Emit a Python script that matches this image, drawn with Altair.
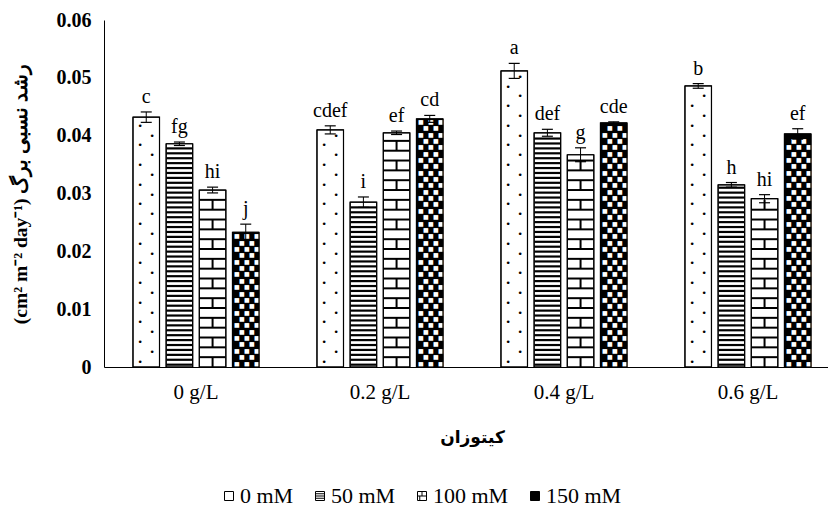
import altair as alt
import pandas as pd

groups = ["0 g/L", "0.2 g/L", "0.4 g/L", "0.6 g/L"]
series = ["0 mM", "50 mM", "100 mM", "150 mM"]

value_0mM = [0.0432, 0.0410, 0.0512, 0.0486]
value_50mM = [0.0386, 0.0285, 0.0405, 0.0315]
value_100mM = [0.0306, 0.0405, 0.0367, 0.0291]
value_150mM = [0.0233, 0.0429, 0.0422, 0.0403]

err_0mM = [0.0009, 0.0007, 0.0013, 0.0004]
err_50mM = [0.0003, 0.0009, 0.0006, 0.0004]
err_100mM = [0.0005, 0.0003, 0.0012, 0.0007]
err_150mM = [0.0014, 0.0006, 0.0002, 0.0009]

letters_0mM = ["c", "cdef", "a", "b"]
letters_50mM = ["fg", "i", "def", "h"]
letters_100mM = ["hi", "ef", "g", "hi"]
letters_150mM = ["j", "cd", "cde", "ef"]

y_ticks = [0, 0.01, 0.02, 0.03, 0.04, 0.05, 0.06]

rows = []
for s, vals, errs, lets in zip(
    series,
    [value_0mM, value_50mM, value_100mM, value_150mM],
    [err_0mM, err_50mM, err_100mM, err_150mM],
    [letters_0mM, letters_50mM, letters_100mM, letters_150mM],
):
    for g, v, e, l in zip(groups, vals, errs, lets):
        rows.append({"group": g, "series": s, "value": v, "err": e, "letter": l})
df = pd.DataFrame(rows)

SERIF = "Liberation Serif"
ARAB = "DejaVu Sans"

x_scale = alt.Scale(domain=groups, paddingInner=0.315, paddingOuter=0.125, align=0.63)
xo_scale = alt.Scale(domain=series, paddingInner=0.2, paddingOuter=0)
y_scale = alt.Scale(domain=[0, 0.06], nice=False, zero=True)

x_axis = alt.Axis(
    labelAngle=0, labelFont=SERIF, labelFontSize=21, labelColor="black",
    labelPadding=14, ticks=False, domainColor="black", domainWidth=1,
    title="کیتوزان", titleFont=ARAB, titleFontSize=17, titleFontWeight="bold",
    titleColor="black", titleX=368, titleY=70, titleBaseline="middle",
)
y_axis = alt.Axis(
    values=y_ticks, format=".2~f", grid=False, ticks=False, domainColor="black",
    domainWidth=1, labelFont=SERIF, labelFontSize=20, labelFontWeight="bold",
    labelColor="black", labelPadding=13,
    title="(cm² m⁻² day⁻¹) رشد نسبی برگ", titleFont=SERIF, titleFontSize=19.5,
    titleFontWeight="bold", titleColor="black", titleX=-74,
)


def X():
    return alt.X("group:N", scale=x_scale, axis=x_axis, sort=groups)


def XO():
    return alt.XOffset("series:N", scale=xo_scale, sort=series)


def Y(field):
    return alt.Y(f"{field}:Q", scale=y_scale, axis=y_axis)


base = alt.Chart(df).transform_calculate(
    lo="datum.value - datum.err", hi="datum.value + datum.err", mid="datum.value / 2"
)

leg = alt.Legend(
    title=None, orient="none", legendX=114, legendY=465, direction="horizontal",
    columns=4, symbolSize=81, symbolStrokeWidth=1,
    labelFont=SERIF, labelFontSize=22, labelColor="black", labelOffset=0,
    columnPadding=15,
)
legend_paths = [
    "M-1,-1H1V1H-1Z",
    "M-1,-1H1V1H-1Z M-1,-0.5H1 M-1,0H1 M-1,0.5H1",
    "M-1,-1H1V1H-1Z M-1,0H1 M0,-1V0 M-0.5,0V1",
    "M-1,-1H1V1H-1Z",
]
legend_fill = ["white", "white", "white", "black"]
legend_stroke = ["black", "black", "black", "black"]

pts = base.mark_point(filled=True, strokeWidth=1, opacity=1).encode(
    x=X(), xOffset=XO(), y=Y("mid"),
    fill=alt.Fill("series:N", scale=alt.Scale(domain=series, range=legend_fill), legend=leg),
    stroke=alt.Stroke("series:N", scale=alt.Scale(domain=series, range=legend_stroke), legend=leg),
    shape=alt.Shape("series:N", scale=alt.Scale(domain=series, range=legend_paths), legend=leg),
)

bars = base.mark_bar(stroke="black", strokeWidth=1).encode(
    x=X(), xOffset=XO(), y=Y("value"),
    fill=alt.condition(alt.datum.series == "150 mM", alt.value("black"), alt.value("white")),
)


def seq(name, start, step, trim):
    return base.transform_filter(alt.datum.series == name).transform_calculate(
        r=f"sequence({start}, datum.value - {trim}, {step})"
    ).transform_flatten(["r"])


def pos(field):
    return dict(x=X(), xOffset=XO(), y=Y(field))


# 0 mM: dots
dot_a = seq("0 mM", 0.0009, 0.0034, 0.0005).mark_text(
    text="•", fontSize=9, dx=-6, color="black", font=ARAB, baseline="middle"
).encode(**pos("r"))
dot_b = seq("0 mM", 0.0026, 0.0034, 0.0005).mark_text(
    text="•", fontSize=9, dx=6, color="black", font=ARAB, baseline="middle"
).encode(**pos("r"))

# 50 mM: horizontal stripes
stripes = seq("50 mM", 0.0004, 0.00085, 0.0003).mark_tick(
    orient="horizontal", size=26, thickness=2.2, color="black", opacity=1
).encode(**pos("r"))

# 100 mM: bricks
brick_h = seq("100 mM", 0.0017, 0.0017, 0.0005).mark_tick(
    orient="horizontal", size=26, thickness=2, color="black", opacity=1
).encode(**pos("r"))
brick_v = seq("100 mM", 0.00085, 0.0034, 0.00085).mark_tick(
    orient="vertical", size=10, thickness=2, color="black", opacity=1
).encode(**pos("r"))

# 150 mM: white gaps on black
sq_layers = []
for start, dxs in [(0.0006, [-9, 1, 11]), (0.0017, [-4, 6])]:
    for d in dxs:
        sq_layers.append(
            seq("150 mM", start, 0.0022, 0.0004).mark_text(
                text="■", fontSize=6, dx=d, color="white", font=ARAB, baseline="middle"
            ).encode(**pos("r"))
        )

outline = base.mark_bar(filled=False, stroke="black", strokeWidth=1.2).encode(
    x=X(), xOffset=XO(), y=Y("value")
)

err_rule = base.mark_rule(color="black", strokeWidth=1).encode(
    x=X(), xOffset=XO(), y=Y("lo"), y2="hi:Q"
)
cap_hi = base.mark_tick(orient="horizontal", size=11, thickness=1.2, color="black", opacity=1).encode(**pos("hi"))
cap_lo = base.mark_tick(orient="horizontal", size=11, thickness=1.2, color="black", opacity=1).encode(**pos("lo"))

letters = base.mark_text(
    font=SERIF, fontSize=20, baseline="alphabetic", dy=-9, color="black"
).encode(x=X(), xOffset=XO(), y=Y("hi"), text="letter:N")

chart = alt.layer(
    pts, bars, dot_a, dot_b, stripes, brick_h, brick_v, *sq_layers,
    outline, err_rule, cap_hi, cap_lo, letters,
).properties(
    width=724, height=347,
    autosize=alt.AutoSizeParams(type="none"),
    padding={"left": 104, "top": 20, "right": 0, "bottom": 141},
    background="white",
).configure_view(stroke=None)

chart.save("out.html", embed_options={"renderer": "svg", "actions": False})
